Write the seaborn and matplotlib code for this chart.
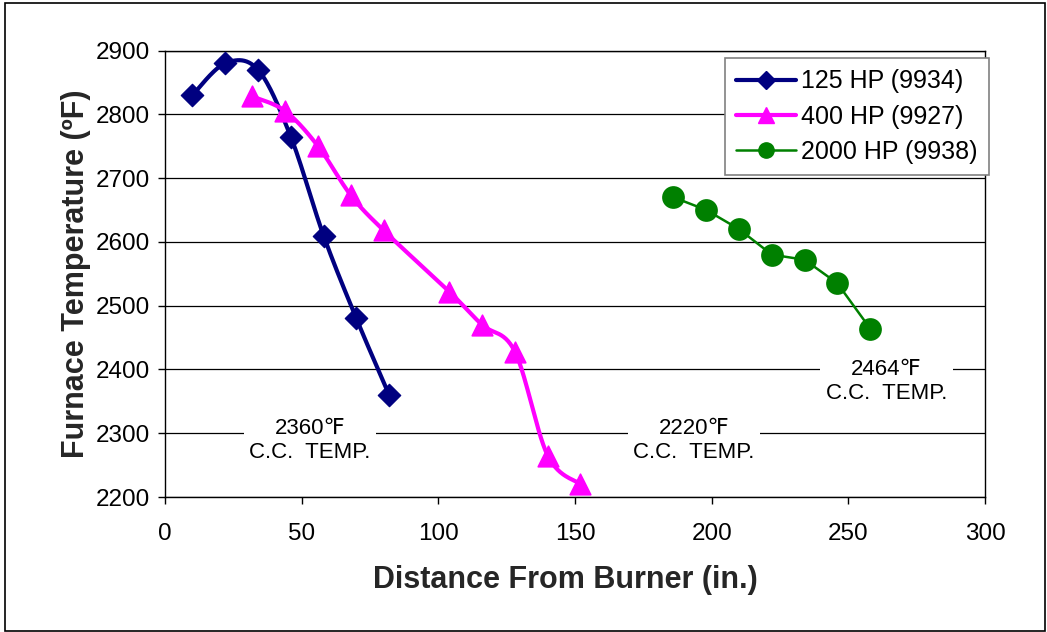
import numpy as np
import matplotlib
matplotlib.use("Agg")
import matplotlib.pyplot as plt
from matplotlib.lines import Line2D
from matplotlib.patches import Rectangle
import seaborn as sns

# data
hp125_x = [10, 22, 34, 46, 58, 70, 82]
hp125_y = [2830, 2880, 2870, 2765, 2610, 2480, 2360]
hp400_x = [32, 44, 56, 68, 80, 104, 116, 128, 140, 152]
hp400_y = [2828, 2805, 2750, 2673, 2618, 2522, 2470, 2428, 2265, 2220]
hp2000_x = [186, 198, 210, 222, 234, 246, 258]
hp2000_y = [2670, 2650, 2620, 2580, 2572, 2535, 2464]

labels = ["125 HP (9934)", "400 HP (9927)", "2000 HP (9938)"]
colors = ["#000080", "#FF00FF", "#008000"]
cc_notes = [("2360℉\nC.C.  TEMP.", 53, 2289), ("2220℉\nC.C.  TEMP.", 193.5, 2289),
            ("2464℉\nC.C.  TEMP.", 264, 2381)]


def smooth(xs, ys, n=30):
    # Excel-like smoothed line: cubic Bezier through the points
    p = np.column_stack([xs, ys]).astype(float)
    ext = np.vstack([p[0], p, p[-1]])
    out = []
    t = np.linspace(0, 1, n)[:, None]
    for i in range(len(p) - 1):
        p0, p1 = ext[i + 1], ext[i + 2]
        c1 = p0 + (ext[i + 2] - ext[i]) / 6
        c2 = p1 - (ext[i + 3] - ext[i + 1]) / 6
        seg = ((1 - t) ** 3) * p0 + 3 * ((1 - t) ** 2) * t * c1 + 3 * (1 - t) * t ** 2 * c2 + t ** 3 * p1
        out.append(seg)
    out = np.vstack(out)
    return out[:, 0], out[:, 1]


sns.set_style("white")
plt.rcParams["font.family"] = ["Liberation Sans", "DejaVu Sans"]
plt.rcParams["text.color"] = "black"

fig = plt.figure(figsize=(10.47, 6.32), dpi=100)
ax = fig.add_axes([0.1576, 0.2136, 0.7832, 0.7064])

sx, sy = smooth(hp125_x, hp125_y)
sns.lineplot(x=sx, y=sy, sort=False, estimator=None, color=colors[0], lw=3, ax=ax)
sns.scatterplot(x=hp125_x, y=hp125_y, marker="D", s=130, color=colors[0], edgecolor=colors[0], zorder=5, ax=ax)

sx, sy = smooth(hp400_x, hp400_y)
sns.lineplot(x=sx, y=sy, sort=False, estimator=None, color=colors[1], lw=3, ax=ax)
sns.scatterplot(x=hp400_x, y=hp400_y, marker="^", s=220, color=colors[1], edgecolor=colors[1], zorder=5, ax=ax)

sns.lineplot(x=hp2000_x, y=hp2000_y, sort=False, estimator=None, color=colors[2], lw=1.8, ax=ax)
sns.scatterplot(x=hp2000_x, y=hp2000_y, marker="o", s=230, color=colors[2], edgecolor=colors[2], zorder=5, ax=ax)

ax.set_xlim(0, 300)
ax.set_ylim(2200, 2900)
ax.set_xticks(range(0, 301, 50))
ax.set_yticks(range(2200, 2901, 100))
ax.grid(axis="y", color="black", lw=0.9)
ax.set_axisbelow(True)
for s in ax.spines.values():
    s.set_color("black")
    s.set_linewidth(1.0)
ax.tick_params(axis="both", labelsize=17.5, length=5, width=1, direction="out", color="black",
               labelcolor="black", bottom=True, left=True)
ax.tick_params(axis="x", pad=14)
ax.tick_params(axis="y", pad=6)

ax.set_xlabel("Distance From Burner (in.)", fontsize=22, fontweight="bold", va="center")
ax.set_ylabel("Furnace Temperature (ºF)", fontsize=22, fontweight="bold", va="center")
ax.xaxis.set_label_coords(0.488, -0.186)
ax.yaxis.set_label_coords(-0.108, 0.5)

for txt, x, y in cc_notes:
    ax.text(x, y, txt, ha="center", va="center", fontsize=16, linespacing=1.2,
            bbox=dict(facecolor="white", edgecolor="none", pad=4), zorder=4)

handles = [
    Line2D([], [], color=colors[0], lw=3, marker="D", markersize=9),
    Line2D([], [], color=colors[1], lw=3, marker="^", markersize=12),
    Line2D([], [], color=colors[2], lw=1.8, marker="o", markersize=11),
]
leg = fig.legend(handles, labels, loc="upper right", bbox_to_anchor=(0.9446, 0.9082),
                 fontsize=18, frameon=True, fancybox=False, framealpha=1,
                 edgecolor="#808080", handlelength=2.4, borderpad=0.45, labelspacing=0.45,
                 handletextpad=0.2, borderaxespad=0)
leg.get_frame().set_linewidth(1.2)

fig.patches.append(Rectangle((0.0048, 0.0016), 0.9933, 0.9937, transform=fig.transFigure,
                             fill=False, edgecolor="black", lw=1.2))

fig.savefig("out.png", dpi=100)
